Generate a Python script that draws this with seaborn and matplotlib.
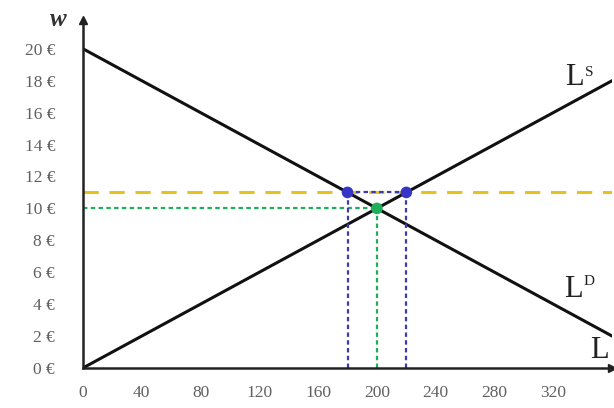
import matplotlib
matplotlib.use('Agg')
import matplotlib.pyplot as plt
import pandas as pd
import seaborn as sns

# Labour market: demand and supply curves
L_range = [0, 360]
supply_w = [0, 18]      # L^S: w = L / 20
demand_w = [20, 2]      # L^D: w = 20 - L / 20
min_wage = 11
eq_L, eq_w = 200, 10
ld_at_min, ls_at_min = 180, 220
x_ticks = [0, 40, 80, 120, 160, 200, 240, 280, 320]
y_ticks = [0, 2, 4, 6, 8, 10, 12, 14, 16, 18, 20]

sns.set_style("white")
plt.rcParams['font.family'] = ['Liberation Serif', 'DejaVu Serif']

fig = plt.figure(figsize=(6.14, 4.08), dpi=100, facecolor='white')
ax = fig.add_axes([0.135, 0.098, 0.862, 0.853])

curves = pd.DataFrame({'L': L_range * 2,
                       'w': supply_w + demand_w,
                       'curve': ['S', 'S', 'D', 'D']})
sns.lineplot(data=curves, x='L', y='w', units='curve', estimator=None,
             color='#111111', linewidth=2.2, ax=ax)

# minimum wage line
ax.axhline(min_wage, color='#e8c21c', linestyle=(0, (5, 3.5)), linewidth=2.2, zorder=1)

# equilibrium guides
blue = '#3c3cb0'
green = '#1fae5a'
ax.plot([0, eq_L], [eq_w, eq_w], color=green, linestyle=(0, (2, 1.5)), linewidth=1.6)
ax.plot([eq_L, eq_L], [0, eq_w], color=green, linestyle=(0, (2, 1.5)), linewidth=1.6)
ax.plot([ld_at_min, ls_at_min], [min_wage, min_wage], color=blue, linestyle=(0, (2, 1.5)), linewidth=1.6)
for xv in [ld_at_min, ls_at_min]:
    ax.plot([xv, xv], [0, min_wage], color=blue, linestyle=(0, (2, 1.5)), linewidth=1.6)

pts = pd.DataFrame({'L': [ld_at_min, ls_at_min, eq_L],
                    'w': [min_wage, min_wage, eq_w],
                    'kind': ['b', 'b', 'g']})
sns.scatterplot(data=pts, x='L', y='w', hue='kind', palette={'b': '#3535c8', 'g': green},
                s=70, edgecolor='none', legend=False, zorder=5, ax=ax)

ax.set_xlim(0, 360)
ax.set_ylim(0, 21.8)
ax.set_xticks(x_ticks)
ax.set_yticks(y_ticks)
ax.set_xticklabels([str(t) for t in x_ticks], color='#606060', fontsize=12.5)
ax.set_yticklabels([f'{t} €' for t in y_ticks], color='#606060', fontsize=12.5)
ax.tick_params(axis='y', length=0, pad=20)
ax.tick_params(axis='x', length=0, pad=12)
ax.set_xlabel('')
ax.set_ylabel('')
for s in ['top', 'right']:
    ax.spines[s].set_visible(False)
for s in ['left', 'bottom']:
    ax.spines[s].set_color('#222222')
    ax.spines[s].set_linewidth(1.8)

# axis arrows
ax.plot(1, 0, '>', color='#222222', markersize=6, transform=ax.transAxes, clip_on=False)
ax.plot(0, 1, '^', color='#222222', markersize=6, transform=ax.transAxes, clip_on=False)

ax.text(-0.03, 1.0, 'w', transform=ax.transAxes, fontsize=18, style='italic',
        fontweight='bold', color='#333333', ha='right', va='center')
ax.text(328, 17.7, 'L', fontsize=22, color='#222222', va='baseline')
ax.text(341.5, 18.9, 'S', fontsize=11, color='#222222', va='top')
ax.text(327, 4.45, 'L', fontsize=22, color='#222222', va='baseline')
ax.text(340.5, 5.8, 'D', fontsize=11, color='#222222', va='top')
ax.text(345, 0.6, 'L', fontsize=22, color='#222222', va='baseline')

fig.savefig('out.png', dpi=100, facecolor='white')
